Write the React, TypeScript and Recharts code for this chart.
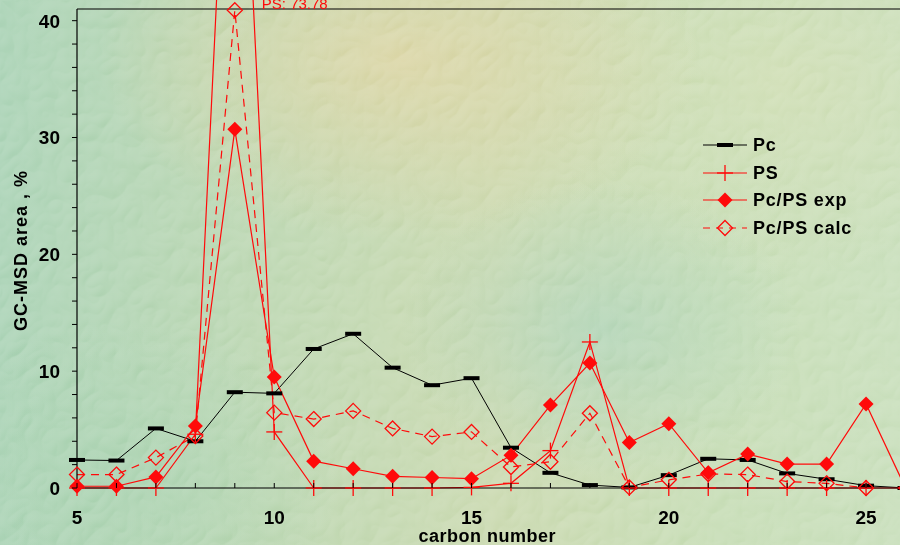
import React from 'react';
import { LineChart, Line, XAxis, YAxis, Legend, ReferenceLine, LabelList } from 'recharts';

// Carbon number of each fraction
const carbonNumbers = [5, 6, 7, 8, 9, 10, 11, 12, 13, 14, 15, 16, 17, 18, 19, 20, 21, 22, 23, 24, 25, 26];

// GC-MSD peak areas, % of total
const pcArea = [2.4, 2.35, 5.1, 4.0, 8.2, 8.1, 11.9, 13.2, 10.3, 8.8, 9.4, 3.45, 1.3, 0.25, 0.05, 1.1, 2.5, 2.4, 1.25, 0.75, 0.2, 0];
const psArea = [0, 0, 0, 4.6, 73.78, 4.8, 0, 0, 0, 0, 0.05, 0.4, 3.2, 12.5, 0, 0, 0, 0, 0, 0, 0, 0];
const pcPsExp = [0.15, 0.15, 0.95, 5.3, 30.7, 9.5, 2.3, 1.65, 1.0, 0.9, 0.8, 2.8, 7.1, 10.7, 3.9, 5.5, 1.3, 2.9, 2.05, 2.05, 7.2, 0];
const pcPsCalc: (number | null)[] = [1.15, 1.15, 2.6, 4.45, 40.9, 6.45, 5.9, 6.6, 5.1, 4.4, 4.8, 1.8, 2.25, 6.4, 0.05, 0.7, 1.2, 1.15, 0.55, 0.4, 0, null];

const xTicks = carbonNumbers;
const yTicks = [0, 2, 4, 6, 8, 10, 12, 14, 16, 18, 20, 22, 24, 26, 28, 30, 32, 34, 36, 38, 40];
const Y_MAX = 41;

const data = carbonNumbers.map((c, i) => ({
  c,
  pc: pcArea[i],
  ps: psArea[i],
  exp: pcPsExp[i],
  calc: pcPsCalc[i],
}));

const RED = '#ff0a0a';
const FONT = '"Liberation Sans", Arial, Helvetica, sans-serif';

const PcMark = ({ cx, cy }: any) =>
  cy == null ? <g /> : <rect x={cx - 8} y={cy - 2} width={16} height={4} fill="#000" />;

const PsMark = ({ cx, cy }: any) =>
  cy == null ? (
    <g />
  ) : (
    <g stroke={RED} strokeWidth={1.3}>
      <line x1={cx - 8} x2={cx + 8} y1={cy} y2={cy} />
      <line x1={cx} x2={cx} y1={cy - 8} y2={cy + 8} />
    </g>
  );

const diamond = (cx: number, cy: number, r: number) =>
  `${cx},${cy - r} ${cx + r},${cy} ${cx},${cy + r} ${cx - r},${cy}`;

const ExpMark = ({ cx, cy }: any) =>
  cy == null ? <g /> : <polygon points={diamond(cx, cy, 7.5)} fill={RED} />;

const CalcMark = ({ cx, cy }: any) =>
  cy == null ? <g /> : <polygon points={diamond(cx, cy, 7.5)} fill="none" stroke={RED} strokeWidth={1.3} />;

const XTick = ({ x, y, payload }: any) => (
  <g>
    <line x1={x} x2={x} y1={y} y2={y - 5} stroke="#000" />
    {payload.value % 5 === 0 && (
      <text x={x} y={y + 36} textAnchor="middle" fontFamily={FONT} fontWeight="bold" fontSize={19} fill="#000">
        {payload.value}
      </text>
    )}
  </g>
);

const YTick = ({ x, y, payload }: any) => (
  <g>
    <line x1={x - 5} x2={x} y1={y} y2={y} stroke="#000" />
    {payload.value % 10 === 0 && (
      <text x={x - 17} y={y} dy="0.36em" textAnchor="end" fontFamily={FONT} fontWeight="bold" fontSize={19} fill="#000">
        {payload.value}
      </text>
    )}
  </g>
);

const legendItems = [
  { name: 'Pc', kind: 'pc' },
  { name: 'PS', kind: 'ps' },
  { name: 'Pc/PS exp', kind: 'exp' },
  { name: 'Pc/PS calc', kind: 'calc' },
];

const LegendSwatch = ({ kind }: { kind: string }) => {
  const cy = 14;
  const stroke = kind === 'pc' ? '#000' : RED;
  return (
    <svg width={50} height={28} style={{ display: 'block' }}>
      <line x1={3} x2={47} y1={cy} y2={cy} stroke={stroke} strokeWidth={1.2} strokeDasharray={kind === 'calc' ? '7 6' : undefined} />
      {kind === 'pc' && <PcMark cx={25} cy={cy} />}
      {kind === 'ps' && <PsMark cx={25} cy={cy} />}
      {kind === 'exp' && <ExpMark cx={25} cy={cy} />}
      {kind === 'calc' && <CalcMark cx={25} cy={cy} />}
    </svg>
  );
};

const LegendContent = () => (
  <div>
    {legendItems.map((it) => (
      <div key={it.name} style={{ display: 'flex', alignItems: 'center', height: 27.7 }}>
        <LegendSwatch kind={it.kind} />
        <span
          style={{
            marginLeft: 3,
            fontFamily: FONT,
            fontWeight: 'bold',
            fontSize: 18,
            letterSpacing: 0.8,
            color: '#000',
            lineHeight: '28px',
            whiteSpace: 'nowrap',
          }}
        >
          {it.name}
        </span>
      </div>
    ))}
  </div>
);

const OffscaleLabel = (props: any) => {
  const { value } = props;
  const x = props.x ?? props.viewBox?.x;
  if (value == null || value <= Y_MAX) return null;
  return (
    <text x={x + 27} y={8.5} fontFamily={FONT} fontSize={15} fill={RED}>
      {`PS: ${value}`}
    </text>
  );
};

export default function App() {
  return (
    <div
      style={{
        position: 'absolute',
        left: 0,
        top: 0,
        width: 900,
        height: 545,
        overflow: 'hidden',
        background:
          'radial-gradient(ellipse 300px 180px at 400px 60px, rgba(220,210,158,0.85), rgba(220,210,158,0) 100%),' +
          'radial-gradient(ellipse 200px 150px at 600px 330px, rgba(160,206,182,0.6), rgba(160,206,182,0) 100%),' +
          'radial-gradient(ellipse 260px 200px at 780px 80px, rgba(210,220,174,0.6), rgba(210,220,174,0) 100%),' +
          'radial-gradient(ellipse 220px 160px at 120px 480px, rgba(160,206,170,0.6), rgba(160,206,170,0) 100%),' +
          'linear-gradient(90deg, #a4cfb0 0%, #b8d4ac 30%, #c6d6aa 55%, #c2dab0 80%, #c4dcb6 100%)',
      }}
    >
      <style>{`.recharts-wrapper [clip-path]{clip-path:none !important}`}</style>
      <svg width={900} height={545} style={{ position: 'absolute', left: 0, top: 0, mixBlendMode: 'soft-light' }}>
        <filter id="stucco" x="0" y="0" width="100%" height="100%">
          <feTurbulence type="turbulence" baseFrequency="0.035" numOctaves="2" seed="7" result="noise" />
          <feDiffuseLighting in="noise" surfaceScale="3" lightingColor="#ffffff" result="lit">
            <feDistantLight azimuth="235" elevation="45" />
          </feDiffuseLighting>
        </filter>
        <rect width={900} height={545} filter="url(#stucco)" opacity={0.45} />
      </svg>
      <div style={{ position: 'absolute', left: 0, top: 0 }}>
        <LineChart width={908} height={545} data={data} margin={{ top: 9, right: 2.5, left: 0, bottom: 0 }}>
          <XAxis
            dataKey="c"
            type="number"
            domain={[5, 26]}
            ticks={xTicks}
            interval={0}
            height={57}
            tickSize={0}
            tickMargin={0}
            tickLine={false}
            axisLine={{ stroke: '#000', strokeWidth: 1.2 }}
            tick={<XTick />}
            label={{
              content: ({ viewBox }: any) => (
                <text
                  x={viewBox.x + viewBox.width / 2 - 4}
                  y={viewBox.y + 54}
                  textAnchor="middle"
                  fontFamily={FONT}
                  fontWeight="bold"
                  fontSize={18}
                  letterSpacing={0.5}
                  fill="#000"
                >
                  carbon number
                </text>
              ),
            }}
          />
          <YAxis
            type="number"
            domain={[0, Y_MAX]}
            allowDataOverflow
            ticks={yTicks}
            interval={0}
            width={77}
            tickSize={0}
            tickMargin={0}
            tickLine={false}
            axisLine={{ stroke: '#000', strokeWidth: 1.2 }}
            tick={<YTick />}
            label={{
              content: ({ viewBox }: any) => {
                const cx = viewBox.x + 21;
                const cy = viewBox.y + viewBox.height / 2 + 2;
                return (
                  <text
                    x={cx}
                    y={cy}
                    dy="0.36em"
                    transform={`rotate(-90, ${cx}, ${cy})`}
                    textAnchor="middle"
                    fontFamily={FONT}
                    fontWeight="bold"
                    fontSize={18}
                    letterSpacing={1}
                    fill="#000"
                  >
                    GC-MSD area , %
                  </text>
                );
              },
            }}
          />
          <ReferenceLine y={Y_MAX} stroke="#000" strokeWidth={1.2} />
          <Legend
            layout="vertical"
            align="center"
            verticalAlign="middle"
            content={<LegendContent />}
            wrapperStyle={{ left: 700, top: 131, width: 200, height: 112 }}
          />
          <Line
            type="linear"
            dataKey="pc"
            name="Pc"
            stroke="#000"
            strokeWidth={1}
            isAnimationActive={false}
            activeDot={false}
            dot={(p: any) => <PcMark key={`pc-${p.index}`} {...p} />}
          />
          <Line
            type="linear"
            dataKey="ps"
            name="PS"
            stroke={RED}
            strokeWidth={1.2}
            isAnimationActive={false}
            activeDot={false}
            dot={(p: any) => <PsMark key={`ps-${p.index}`} {...p} />}
          >
            <LabelList dataKey="ps" content={<OffscaleLabel />} />
          </Line>
          <Line
            type="linear"
            dataKey="exp"
            name="Pc/PS exp"
            stroke={RED}
            strokeWidth={1.2}
            isAnimationActive={false}
            activeDot={false}
            dot={(p: any) => <ExpMark key={`exp-${p.index}`} {...p} />}
          />
          <Line
            type="linear"
            dataKey="calc"
            name="Pc/PS calc"
            stroke={RED}
            strokeWidth={1.2}
            strokeDasharray="8 6"
            isAnimationActive={false}
            activeDot={false}
            dot={(p: any) => <CalcMark key={`calc-${p.index}`} {...p} />}
          />
        </LineChart>
      </div>
    </div>
  );
}
